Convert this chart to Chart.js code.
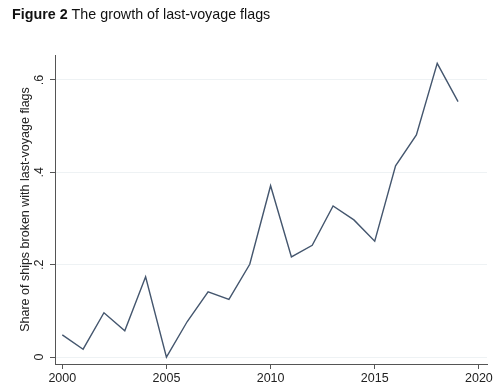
<!DOCTYPE html>
<html>
<head>
<meta charset="utf-8">
<script src="https://cdn.jsdelivr.net/npm/chart.js@4/dist/chart.umd.min.js"></script>
<style>
  html, body { margin: 0; padding: 0; background: #fff; }
  #wrap { width: 500px; height: 391px; position: relative; }
</style>
</head>
<body>
<div id="wrap"><canvas id="c" width="500" height="391"></canvas></div>
<script>
const years = [2000, 2001, 2002, 2003, 2004, 2005, 2006, 2007, 2008, 2009,
               2010, 2011, 2012, 2013, 2014, 2015, 2016, 2017, 2018, 2019];
const shares = [0.048, 0.017, 0.096, 0.057, 0.174, 0.000, 0.077, 0.141, 0.125, 0.201,
                0.371, 0.217, 0.242, 0.327, 0.297, 0.251, 0.414, 0.481, 0.636, 0.553];
const xTicks = [2000, 2005, 2010, 2015, 2020];
const yTicks = [0, 0.2, 0.4, 0.6];
const yTickLabels = ['0', '.2', '.4', '.6'];
const titleBold = 'Figure 2';
const titleRest = ' The growth of last-voyage flags';
const yTitle = 'Share of ships broken with last-voyage flags';

const FONT = '"Liberation Sans", Arial, sans-serif';

const titlePlugin = {
  id: 'figTitle',
  afterDraw(chart) {
    const ctx = chart.ctx;
    ctx.save();
    ctx.fillStyle = '#111';
    ctx.textBaseline = 'alphabetic';
    ctx.textAlign = 'left';
    ctx.font = 'bold 14.3px ' + FONT;
    ctx.fillText(titleBold, 12, 19);
    const w = ctx.measureText(titleBold).width;
    ctx.font = '14.3px ' + FONT;
    ctx.fillText(titleRest, 12 + w, 19);
    ctx.restore();
  }
};

new Chart(document.getElementById('c'), {
  type: 'line',
  data: {
    datasets: [{
      data: years.map((y, i) => ({ x: y, y: shares[i] })),
      borderColor: '#44566e',
      borderWidth: 1.4,
      pointRadius: 0,
      tension: 0,
      fill: false
    }]
  },
  options: {
    responsive: false,
    animation: false,
    devicePixelRatio: 1,
    layout: { padding: { left: 0, right: 13, top: 55, bottom: 0 } },
    plugins: { legend: { display: false }, tooltip: { enabled: false }, title: { display: false } },
    scales: {
      x: {
        type: 'linear',
        min: 1999.65,
        max: 2020.39,
        afterBuildTicks: (s) => { s.ticks = xTicks.map(v => ({ value: v })); },
        afterFit: (s) => { s.height = 27; },
        ticks: {
          color: '#222',
          font: { family: FONT, size: 12.5 },
          padding: 2,
          maxRotation: 0,
          callback: (v) => String(v)
        },
        grid: { drawOnChartArea: false, tickLength: 5, tickColor: '#555', tickWidth: 1 },
        border: { display: true, color: '#555', width: 1 }
      },
      y: {
        type: 'linear',
        min: -0.015,
        max: 0.654,
        afterBuildTicks: (s) => { s.ticks = yTicks.map(v => ({ value: v })); },
        afterFit: (s) => { s.width = 55; },
        ticks: {
          color: '#222',
          font: { family: FONT, size: 12.5 },
          minRotation: 90,
          maxRotation: 90,
          crossAlign: 'center',
          padding: 5,
          callback: (v) => { const i = yTicks.indexOf(v); return i >= 0 ? yTickLabels[i] : ''; }
        },
        grid: { color: '#eef2f4', lineWidth: 1, tickLength: 5, tickColor: '#555', tickWidth: 1 },
        border: { display: true, color: '#555', width: 1 },
        title: {
          display: true,
          text: yTitle,
          color: '#222',
          font: { family: FONT, size: 12.5 },
          padding: { top: 18, bottom: 0 }
        }
      }
    }
  },
  plugins: [titlePlugin]
});
</script>
</body>
</html>
